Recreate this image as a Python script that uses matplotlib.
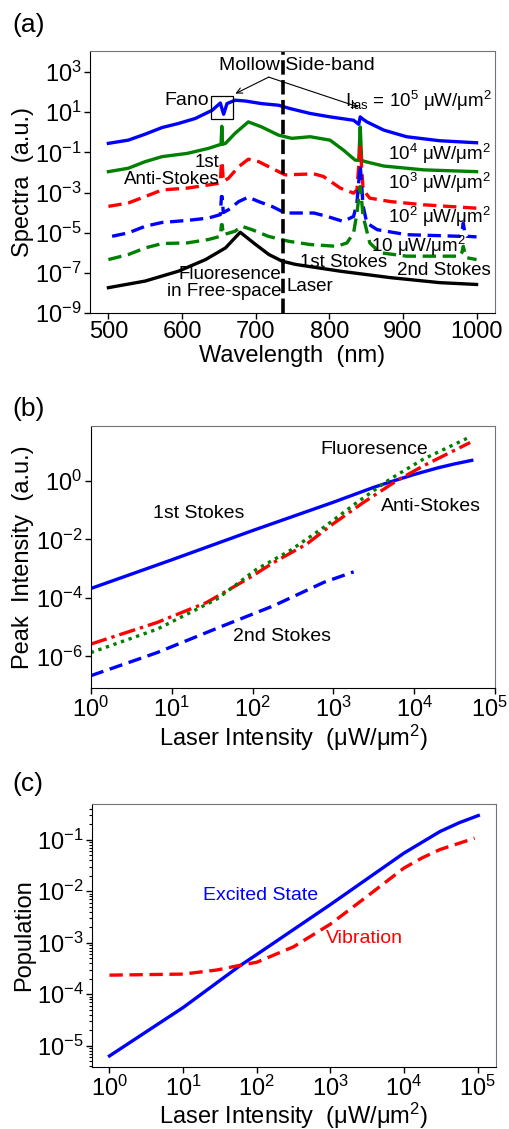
import numpy as np
import matplotlib; matplotlib.use("Agg")
import matplotlib.pyplot as plt
import matplotlib.transforms as mtrans
from matplotlib.ticker import FixedLocator, FuncFormatter, LogLocator, NullFormatter
from matplotlib.patches import Rectangle

plt.rcParams["font.family"] = ["Liberation Sans", "DejaVu Sans"]
plt.rcParams["mathtext.fontset"] = "custom"
plt.rcParams["mathtext.rm"] = "Liberation Sans"
plt.rcParams["mathtext.it"] = "Liberation Sans:italic"
plt.rcParams["mathtext.bf"] = "Liberation Sans:bold"

# ---- (a) spectra: wavelength (nm) and log10(spectra) ----
wl_1e5 = [500, 527, 550, 573, 595, 618, 641, 652, 654, 656.5, 661, 672, 686, 708, 731, 747, 774, 801, 833, 840, 842, 844, 851, 874, 905, 950, 1000]
lg_1e5 = [-0.55, -0.39, -0.09, 0.24, 0.44, 0.69, 1.1, 1.46, 1.2, 0.9, 1.43, 1.6, 1.56, 1.43, 1.35, 1.18, 0.94, 0.77, 0.6, 0.4, 0.77, 0.7, 0.52, 0.11, -0.22, -0.42, -0.52]
wl_1e4 = [500, 527, 550, 573, 607, 636, 650, 653, 654, 655, 659, 672, 690, 708, 731, 749, 774, 801, 819, 835, 840, 842, 844, 849, 874, 928, 1000]
lg_1e4 = [-1.96, -1.79, -1.46, -1.21, -1.05, -0.8, -0.63, -0.6, 0.3, -0.6, -0.55, -0.05, 0.52, 0.27, -0.14, -0.3, -0.22, -0.39, -0.88, -1.38, -1.4, 0.27, -1.4, -1.46, -1.68, -1.87, -1.96]
wl_1e3 = [500, 527, 550, 573, 607, 636, 652, 653.5, 654.5, 656, 663, 677, 690, 704, 722, 740, 779, 792, 815, 833, 837.5, 842, 846, 855, 883, 928, 1000]
lg_1e3 = [-3.69, -3.52, -3.2, -2.87, -2.78, -2.62, -2.53, -1.46, -1.46, -2.45, -2.29, -1.71, -1.34, -1.46, -1.79, -2.12, -2.07, -2.2, -2.78, -3.03, -2.87, -0.72, -2.87, -3.28, -3.45, -3.61, -3.78]
wl_1e2 = [505, 527, 550, 573, 607, 636, 652, 653.5, 654.5, 656, 663, 677, 690, 704, 722, 740, 779, 797, 819, 833, 837.5, 842, 846, 851, 865, 905, 977, 980, 982, 984, 987, 1000]
lg_1e2 = [-5.18, -5.01, -4.68, -4.49, -4.39, -4.27, -4.1, -3.2, -3.2, -4.0, -3.86, -3.45, -3.23, -3.45, -3.69, -4.02, -4.02, -4.19, -4.44, -4.19, -3.52, -1.63, -3.69, -4.52, -4.85, -5.1, -5.18, -5.0, -4.52, -5.0, -5.18, -5.21]
wl_1e1 = [500, 527, 550, 573, 607, 636, 652, 653.5, 654.5, 656, 672, 681, 695, 717, 745, 774, 810, 824, 833, 837.5, 842, 846, 855, 869, 905, 977, 980, 982, 984, 987, 1000]
lg_1e1 = [-6.34, -6.09, -5.76, -5.54, -5.51, -5.34, -5.18, -4.6, -4.6, -5.1, -4.93, -4.68, -4.85, -5.18, -5.43, -5.59, -5.68, -5.51, -5.01, -4.02, -2.7, -4.19, -5.51, -6.0, -6.17, -6.17, -6.0, -5.68, -6.0, -6.25, -6.34]
wl_fl = [500, 550, 595, 632, 659, 679, 700, 718, 736, 754, 815, 883, 950, 1000]
lg_fl = [-7.74, -7.41, -6.92, -6.34, -5.76, -4.98, -5.59, -6.09, -6.42, -6.58, -6.92, -7.24, -7.49, -7.58]
laser_wl = 737

# ---- (b) peak intensity vs laser intensity (log10 x, log10 y) ----
lx_st1 = [0, 1, 2, 3, 3.5, 3.7, 4.0, 4.3, 4.5, 4.71]
ly_st1 = [-3.68, -2.7, -1.7, -0.73, -0.22, -0.04, 0.22, 0.45, 0.58, 0.7]
lx_as = [0, 0.82, 1.43, 1.97, 2.26, 2.67, 2.96, 3.37, 3.78, 4.11, 4.69]
ly_as = [-5.58, -4.84, -4.16, -3.30, -2.79, -2.16, -1.54, -0.74, 0.0, 0.51, 1.31]
lx_fl = [0, 0.82, 1.56, 2.05, 2.46, 2.88, 3.29, 3.70, 4.11, 4.65]
ly_fl = [-5.87, -5.07, -4.04, -3.02, -2.39, -1.59, -0.74, 0.06, 0.74, 1.45]
lx_st2 = [0, 0.82, 1.64, 2.26, 2.88, 3.25]
ly_st2 = [-6.66, -5.87, -4.95, -4.27, -3.47, -3.11]

# ---- (c) population vs laser intensity (log10 x, log10 y) ----
lx_ex = [0, 1, 1.77, 2, 3, 3.49, 4, 4.49, 4.75, 5.01]
ly_ex = [-5.2, -4.26, -3.45, -3.23, -2.26, -1.77, -1.26, -0.84, -0.67, -0.53]
lx_vib = [0, 1, 1.46, 1.77, 2, 2.5, 3, 3.49, 4, 4.25, 4.49, 4.96]
ly_vib = [-3.63, -3.61, -3.53, -3.44, -3.38, -3.08, -2.64, -2.11, -1.55, -1.35, -1.19, -0.97]

BLUE, GREEN, RED = "#0000ff", "#008000", "#ff0000"
FS_TICK, FS_LAB, FS_TXT, FS_SMALL, FS_PANEL = 17, 17, 14, 13.5, 19
LW = 2.4
DASH = (0, (4, 2))


def pow_fmt(v, pos):
    if v <= 0:
        return ""
    e = int(np.round(np.log10(v)))
    return r"$\mathregular{10^{%d}}$" % e


def style(ax):
    for s in ["top", "right"]:
        ax.spines[s].set_color("0.45")
    ax.tick_params(which="both", direction="out", top=False, right=False, labelsize=FS_TICK, pad=2)
    ax.tick_params(which="major", length=4, width=1)
    ax.tick_params(which="minor", length=2, width=0.8)


p = lambda a: 10 ** np.asarray(a)
fig = plt.figure(figsize=(5.1, 11.29), dpi=100)

# ---------------- (a) ----------------
ax = fig.add_axes([0.1765, 0.7228, 0.794, 0.232])
ax.plot(wl_1e5, p(lg_1e5), color=BLUE, lw=LW)
ax.plot(wl_1e4, p(lg_1e4), color=GREEN, lw=LW)
ax.plot(wl_1e3, p(lg_1e3), color=RED, lw=LW, ls=DASH)
ax.plot(wl_1e2, p(lg_1e2), color=BLUE, lw=LW, ls=DASH)
ax.plot(wl_1e1, p(lg_1e1), color=GREEN, lw=LW, ls=DASH)
ax.plot(wl_fl, p(lg_fl), color="black", lw=LW)
ax.axvline(laser_wl, color="black", lw=2.6, ls=(0, (4, 1.5)))
ax.set_yscale("log")
ax.set_xlim(475, 1025)
ax.set_ylim(1e-9, 10 ** 4.05)
ax.xaxis.set_major_locator(FixedLocator([500, 600, 700, 800, 900, 1000]))
ax.yaxis.set_major_locator(FixedLocator([1e-9, 1e-7, 1e-5, 1e-3, 1e-1, 1e1, 1e3]))
ax.yaxis.set_minor_locator(FixedLocator([]))
ax.yaxis.set_major_formatter(FuncFormatter(pow_fmt))
style(ax)
ax.set_xlabel("Wavelength  (nm)", fontsize=FS_LAB, labelpad=1)
ax.set_ylabel("Spectra  (a.u.)", fontsize=FS_LAB, labelpad=1)
ax.add_patch(Rectangle((639, 4.5), 30, 57.5, fill=False, ec="black", lw=0.9, zorder=5))
ax.text(756, 10 ** 3.33, "Mollow Side-band", fontsize=FS_TXT, ha="center", va="center")
for tx, ty in [(672.5, 10 ** 1.93), (839.7, 10 ** 1.26)]:
    ax.annotate("", xy=(tx, ty), xytext=(717.7, 10 ** 2.75),
                arrowprops=dict(arrowstyle="->", color="black", lw=0.8, shrinkA=0, shrinkB=0))
ax.text(636, 10 ** 1.6, "Fano", fontsize=FS_TXT, ha="right", va="center")
ax.text(822, 10 ** 1.55, r"$\mathregular{I_{las}}$ = 10$^5$ μW/μm$^2$", fontsize=FS_SMALL, ha="left", va="center")
ax.text(1020, 10 ** -1.08, r"10$^4$ μW/μm$^2$", fontsize=FS_SMALL, ha="right", va="center")
ax.text(1020, 10 ** -2.54, r"10$^3$ μW/μm$^2$", fontsize=FS_SMALL, ha="right", va="center")
ax.text(1020, 10 ** -4.2, r"10$^2$ μW/μm$^2$", fontsize=FS_SMALL, ha="right", va="center")
ax.text(985, 10 ** -5.66, r"10 μW/μm$^2$", fontsize=FS_SMALL, ha="right", va="center")
ax.text(820, 10 ** -6.49, "1st Stokes", fontsize=FS_SMALL, ha="center", va="center")
ax.text(955, 10 ** -6.9, "2nd Stokes", fontsize=FS_SMALL, ha="center", va="center")
ax.text(651, 10 ** -1.93, "1st\nAnti-Stokes", fontsize=FS_SMALL, ha="right", va="center",
        multialignment="right", linespacing=1.0)
ax.text(735, 10 ** -7.5, "Fluoresence\nin Free-space", fontsize=FS_SMALL, ha="right", va="center",
        multialignment="right", linespacing=1.05)
ax.text(742, 10 ** -7.66, "Laser", fontsize=FS_SMALL, ha="left", va="center")
fig.text(0.025, 0.978, "(a)", fontsize=FS_PANEL, ha="left", va="center")

# ---------------- (b) ----------------
ax = fig.add_axes([0.178, 0.3906, 0.793, 0.2321])
ax.plot(p(lx_st1), p(ly_st1), color=BLUE, lw=LW)
ax.plot(p(lx_as), p(ly_as), color=RED, lw=LW, ls=(0, (5, 1.5, 1, 1.5)))
ax.plot(p(lx_fl), p(ly_fl), color=GREEN, lw=LW, ls=(0, (1, 1.4)))
ax.plot(p(lx_st2), p(ly_st2), color=BLUE, lw=LW, ls=DASH)
ax.set_xscale("log"); ax.set_yscale("log")
ax.set_xlim(1, 1e5)
ax.set_ylim(10 ** -7.08, 10 ** 1.875)
ax.xaxis.set_major_locator(FixedLocator([1, 1e1, 1e2, 1e3, 1e4, 1e5]))
ax.xaxis.set_minor_locator(LogLocator(base=10, subs=np.arange(2, 10)))
ax.xaxis.set_minor_formatter(NullFormatter())
ax.yaxis.set_major_locator(FixedLocator([1e-6, 1e-4, 1e-2, 1e0]))
ax.yaxis.set_minor_locator(FixedLocator([]))
ax.xaxis.set_major_formatter(FuncFormatter(pow_fmt))
ax.yaxis.set_major_formatter(FuncFormatter(pow_fmt))
style(ax)
# last x label sits at the figure edge: nudge it left a little
last = ax.xaxis.get_major_ticks()[-1].label1
last.set_transform(last.get_transform() + mtrans.ScaledTranslation(-4 / 72, 0, fig.dpi_scale_trans))
ax.set_xlabel(r"Laser Intensity  (μW/μm$^2$)", fontsize=FS_LAB, labelpad=1)
ax.set_ylabel("Peak  Intensity  (a.u.)", fontsize=FS_LAB, labelpad=1)
ax.text(10 ** 3.5, 10 ** 1.08, "Fluoresence", fontsize=FS_TXT, ha="center", va="center")
ax.text(10 ** 1.34, 10 ** -1.1, "1st Stokes", fontsize=FS_TXT, ha="center", va="center")
ax.text(10 ** 4.2, 10 ** -0.875, "Anti-Stokes", fontsize=FS_TXT, ha="center", va="center")
ax.text(10 ** 2.37, 10 ** -5.33, "2nd Stokes", fontsize=FS_TXT, ha="center", va="center")
fig.text(0.025, 0.638, "(b)", fontsize=FS_PANEL, ha="left", va="center")

# ---------------- (c) ----------------
ax = fig.add_axes([0.18, 0.0549, 0.7925, 0.233])
ax.plot(p(lx_ex), p(ly_ex), color=BLUE, lw=LW)
ax.plot(p(lx_vib), p(ly_vib), color=RED, lw=LW, ls=DASH)
ax.set_xscale("log"); ax.set_yscale("log")
ax.set_xlim(10 ** -0.24, 10 ** 5.25)
ax.set_ylim(10 ** -5.415, 10 ** -0.305)
ax.xaxis.set_major_locator(FixedLocator([1, 1e1, 1e2, 1e3, 1e4, 1e5]))
ax.yaxis.set_major_locator(FixedLocator([1e-5, 1e-4, 1e-3, 1e-2, 1e-1]))
for a in (ax.xaxis, ax.yaxis):
    a.set_minor_locator(LogLocator(base=10, subs=np.arange(2, 10)))
    a.set_minor_formatter(NullFormatter())
    a.set_major_formatter(FuncFormatter(pow_fmt))
style(ax)
ax.set_xlabel(r"Laser Intensity  (μW/μm$^2$)", fontsize=FS_LAB, labelpad=0)
ax.set_ylabel("Population", fontsize=FS_LAB, labelpad=1)
ax.text(10 ** 2.05, 10 ** -2.09, "Excited State", color=BLUE, fontsize=FS_TXT, ha="center", va="center")
ax.text(10 ** 3.46, 10 ** -2.92, "Vibration", color=RED, fontsize=FS_TXT, ha="center", va="center")
fig.text(0.025, 0.306, "(c)", fontsize=FS_PANEL, ha="left", va="center")

fig.savefig("out.png", dpi=100)
